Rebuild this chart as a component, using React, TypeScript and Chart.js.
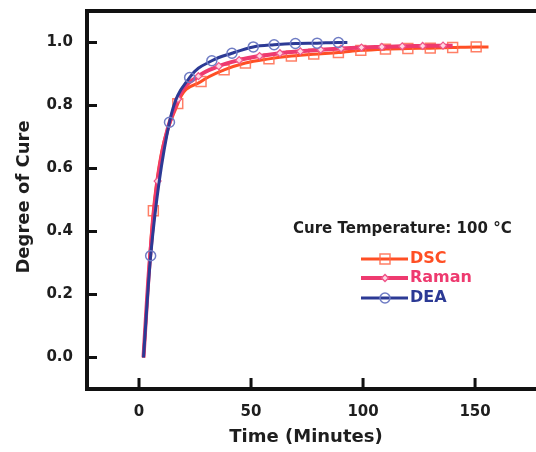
import React, { useEffect, useRef } from 'react';
import { Chart, registerables } from 'chart.js';

Chart.register(...registerables);

// ---- data ----
const xTickValues = [0, 50, 100, 150];
const yTickValues = [0, 0.2, 0.4, 0.6, 0.8, 1.0];

const xTitle = 'Time (Minutes)';
const yTitle = 'Degree of Cure';
const legendTitle = 'Cure Temperature: 100 °C';
const seriesNames = ['DSC', 'Raman', 'DEA'];

const dscTime = [2, 6.4, 17.3, 27.7, 38, 47.5, 58, 68, 78, 89, 99, 110, 120, 130, 140, 150.5, 156];
const dscCure = [0, 0.466, 0.806, 0.876, 0.913, 0.935, 0.948, 0.957, 0.963, 0.968, 0.975, 0.979, 0.981, 0.982, 0.984, 0.986, 0.986];

const ramanTime = [2, 4.5, 8.3, 17.4, 26.5, 35.6, 44.7, 53.8, 62.9, 72, 81.1, 90.2, 99.3, 108.4, 117.5, 126.6, 135.7, 140];
const ramanCure = [0, 0.28, 0.56, 0.82, 0.893, 0.925, 0.944, 0.957, 0.966, 0.972, 0.977, 0.981, 0.984, 0.986, 0.988, 0.989, 0.99, 0.99];

const deaTime = [2, 5.2, 13.6, 22.6, 32.5, 41.5, 51, 60.3, 69.8, 79.5, 89, 93];
const deaCure = [0, 0.323, 0.747, 0.889, 0.942, 0.966, 0.986, 0.993, 0.997, 0.998, 1.0, 1.0];

// ---- styles ----
const FONT = '"DejaVu Sans", "Liberation Sans", Arial, sans-serif';
const TEXT = '#1e1e1e';
const DSC_COLOR = '#ff4f24';
const DSC_MARK = 'rgba(255,105,75,0.85)';
const RAMAN_COLOR = '#ee3a6f';
const RAMAN_MARK = '#f0558a';
const DEA_COLOR = '#2c3a95';
const DEA_MARK = '#6f7cc4';

const toPoints = (t: number[], c: number[]) => t.map((x, i) => ({ x, y: c[i] }));

function drawMarker(ctx: CanvasRenderingContext2D, kind: string, x: number, y: number, color: string) {
  ctx.save();
  ctx.strokeStyle = color;
  ctx.lineWidth = 1.5;
  ctx.beginPath();
  if (kind === 'rect') {
    ctx.rect(x - 5, y - 5, 10, 10);
  } else if (kind === 'circle') {
    ctx.arc(x, y, 5, 0, Math.PI * 2);
  } else {
    ctx.moveTo(x, y - 3.5);
    ctx.lineTo(x + 3.5, y);
    ctx.lineTo(x, y + 3.5);
    ctx.lineTo(x - 3.5, y);
    ctx.closePath();
    ctx.fillStyle = '#ffd6e2';
    ctx.fill();
  }
  ctx.stroke();
  ctx.restore();
}

const framePlugin = {
  id: 'frameAndLegend',
  afterDraw(chart: any) {
    const { ctx, chartArea, scales } = chart;
    const { left, top, bottom } = chartArea;
    const W = chart.width;
    ctx.save();
    // frame (open on the right like the cropped original)
    ctx.strokeStyle = '#111';
    ctx.lineWidth = 4;
    ctx.lineJoin = 'miter';
    ctx.beginPath();
    ctx.moveTo(W + 5, top);
    ctx.lineTo(left + 1, top);
    ctx.lineTo(left + 1, bottom);
    ctx.lineTo(W + 5, bottom);
    ctx.stroke();
    // inward ticks
    ctx.lineWidth = 3;
    ctx.beginPath();
    xTickValues.forEach((v) => {
      const px = scales.x.getPixelForValue(v);
      ctx.moveTo(px, bottom);
      ctx.lineTo(px, bottom - 11);
    });
    yTickValues.forEach((v) => {
      const py = scales.y.getPixelForValue(v);
      ctx.moveTo(left, py);
      ctx.lineTo(left + 11, py);
    });
    ctx.stroke();

    // axis titles
    ctx.fillStyle = TEXT;
    ctx.font = `bold 18px ${FONT}`;
    ctx.textAlign = 'center';
    ctx.textBaseline = 'middle';
    ctx.fillText(xTitle, 306, 437);
    ctx.save();
    ctx.translate(24, 197);
    ctx.rotate(-Math.PI / 2);
    ctx.fillText(yTitle, 0, 0);
    ctx.restore();

    // legend
    ctx.textAlign = 'left';
    ctx.font = `bold 15px ${FONT}`;
    ctx.fillText(legendTitle, 293, 229);
    const entries = [
      { name: seriesNames[0], color: DSC_COLOR, mark: DSC_MARK, kind: 'rect', y: 259, w: 3 },
      { name: seriesNames[1], color: RAMAN_COLOR, mark: RAMAN_MARK, kind: 'diamond', y: 278, w: 4 },
      { name: seriesNames[2], color: DEA_COLOR, mark: DEA_MARK, kind: 'circle', y: 298, w: 3 },
    ];
    entries.forEach((e) => {
      ctx.strokeStyle = e.color;
      ctx.lineWidth = e.w;
      ctx.beginPath();
      ctx.moveTo(361, e.y);
      ctx.lineTo(408, e.y);
      ctx.stroke();
      drawMarker(ctx, e.kind, 385, e.y, e.mark);
      ctx.fillStyle = e.color;
      ctx.font = `bold 16px ${FONT}`;
      ctx.fillText(e.name, 410, e.y);
    });
    ctx.restore();
  },
};

export default function App() {
  const ref = useRef<HTMLCanvasElement>(null);
  useEffect(() => {
    document.body.style.margin = '0';
    const canvas = ref.current!;
    const nDsc = dscTime.length;
    const nRam = ramanTime.length;
    const nDea = deaTime.length;
    const chart = new Chart(canvas, {
      type: 'line',
      data: {
        datasets: [
          {
            label: seriesNames[2],
            data: toPoints(deaTime, deaCure),
            borderColor: DEA_COLOR,
            borderWidth: 3,
            pointStyle: 'circle',
            pointRadius: (c: any) => (c.dataIndex === 0 || c.dataIndex === nDea - 1 ? 0 : 5),
            pointBorderColor: DEA_MARK,
            pointBackgroundColor: 'rgba(0,0,0,0)',
            pointBorderWidth: 1.5,
            cubicInterpolationMode: 'monotone',
            fill: false,
          },
          {
            label: seriesNames[1],
            data: toPoints(ramanTime, ramanCure),
            borderColor: RAMAN_COLOR,
            borderWidth: 4,
            pointStyle: 'rectRot',
            pointRadius: (c: any) => (c.dataIndex <= 1 || c.dataIndex === nRam - 1 ? 0 : 3.5),
            pointBorderColor: RAMAN_MARK,
            pointBackgroundColor: '#ffd6e2',
            pointBorderWidth: 1.2,
            cubicInterpolationMode: 'monotone',
            fill: false,
          },
          {
            label: seriesNames[0],
            data: toPoints(dscTime, dscCure),
            borderColor: DSC_COLOR,
            borderWidth: 3,
            pointStyle: 'rect',
            pointRadius: (c: any) => (c.dataIndex === 0 || c.dataIndex === nDsc - 1 ? 0 : 7),
            pointBorderColor: DSC_MARK,
            pointBackgroundColor: 'rgba(0,0,0,0)',
            pointBorderWidth: 1.5,
            cubicInterpolationMode: 'monotone',
            fill: false,
          },
        ],
      },
      options: {
        animation: false,
        responsive: false,
        layout: { padding: { top: 11, left: 0, right: 0, bottom: 0 } },
        plugins: { legend: { display: false }, tooltip: { enabled: false } },
        scales: {
          x: {
            type: 'linear',
            min: -23.66,
            max: 177.2,
            grid: { display: false, drawTicks: false },
            border: { display: false },
            afterFit: (s: any) => {
              s.height = 63;
              s.paddingLeft = 0;
              s.paddingRight = 0;
            },
            afterBuildTicks: (s: any) => { s.ticks = xTickValues.map((v) => ({ value: v })); },
            ticks: {
              color: TEXT,
              font: { family: FONT, size: 15, weight: 'bold' },
              padding: 14,
              maxRotation: 0,
              autoSkip: false,
            },
          },
          y: {
            type: 'linear',
            min: -0.1,
            max: 1.1,
            grid: { display: false, drawTicks: false },
            border: { display: false },
            afterFit: (s: any) => {
              s.width = 86;
              s.paddingTop = 0;
              s.paddingBottom = 0;
            },
            afterBuildTicks: (s: any) => { s.ticks = yTickValues.map((v) => ({ value: v })); },
            ticks: {
              color: TEXT,
              font: { family: FONT, size: 15, weight: 'bold' },
              padding: 13,
              autoSkip: false,
              callback: (v: any) => Number(v).toFixed(1),
            },
          },
        },
      },
      plugins: [framePlugin],
    } as any);
    return () => chart.destroy();
  }, []);
  return (
    <div style={{ width: 536, height: 452, overflow: 'hidden' }}>
      <canvas ref={ref} width={536} height={452} style={{ display: 'block' }} />
    </div>
  );
}
